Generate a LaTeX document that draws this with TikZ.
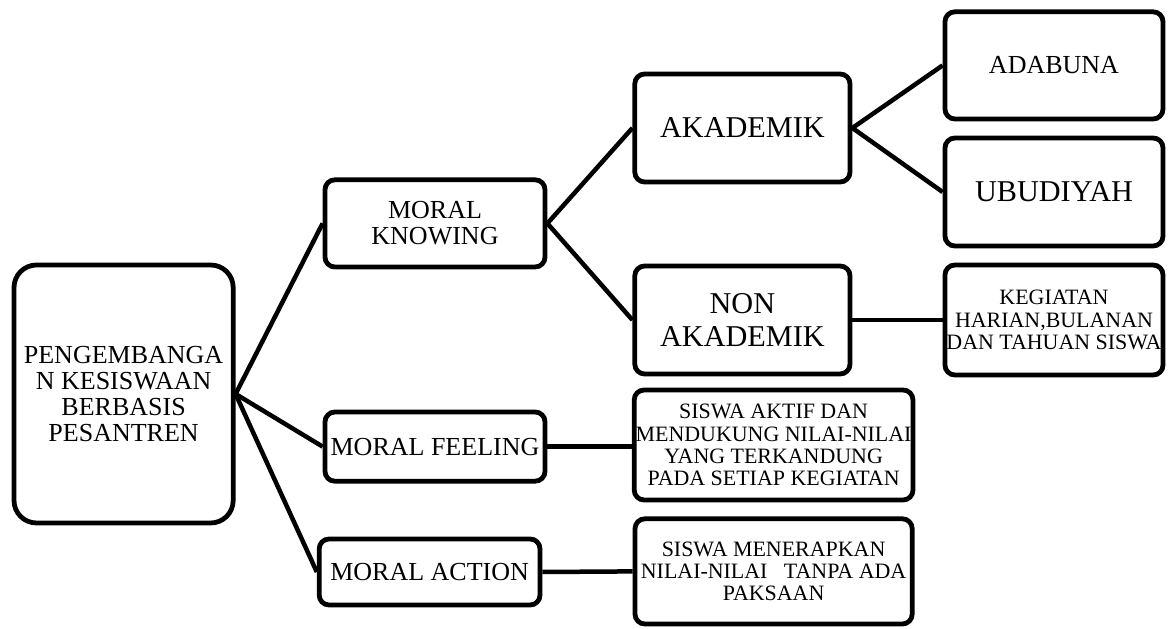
\documentclass[tikz,border=0pt]{standalone}
\usepackage{fontspec}
\setmainfont{Liberation Serif}
\usepackage{tikz}
\usetikzlibrary{positioning}

\begin{document}
\begin{tikzpicture}[
		box/.style={draw, line width=3.4pt, rounded corners=7pt, align=center, inner sep=1pt},
		big/.style={font=\fontsize{21.5}{23.5}\selectfont},
		mid/.style={font=\fontsize{18.5}{18.5}\selectfont},
		small/.style={font=\fontsize{15.6}{15.8}\selectfont},
		link/.style={line width=3.2pt}]
		\useasboundingbox (0,0) rectangle (29.225,15.725);
		% root
		\node[box, mid, rounded corners=16pt, minimum width=5.48cm, minimum height=6.45cm] (root) at (3.09,5.875) {PENGEMBANGA\\N KESISWAAN\\BERBASIS\\PESANTREN};
		% second level
		\node[box, mid, minimum width=5.5cm, minimum height=2.18cm] (knowing) at (10.875,10.14) {MORAL\\KNOWING};
		\node[box, mid, minimum width=5.5cm, minimum height=1.73cm] (feeling) at (10.875,4.56) {MORAL FEELING};
		\node[box, mid, minimum width=5.52cm, minimum height=1.65cm] (action) at (10.74,1.425) {MORAL ACTION};
		% third level
		\node[box, big, minimum width=5.38cm, minimum height=2.7cm] (akademik) at (18.56,12.525) {AKADEMIK};
		\node[box, big, minimum width=5.38cm, minimum height=2.7cm] (nonakademik) at (18.56,7.725) {NON\\AKADEMIK};
		\node[box, small, minimum width=6.93cm, minimum height=2.75cm] (aktif) at (19.34,4.6) {SISWA AKTIF DAN\\MENDUKUNG NILAI-NILAI\\YANG TERKANDUNG\\PADA SETIAP KEGIATAN};
		\node[box, small, minimum width=6.93cm, minimum height=2.63cm] (terapkan) at (19.34,1.44) {SISWA MENERAPKAN\\NILAI-NILAI\ \ \ TANPA ADA\\PAKSAAN};
		% fourth level
		\node[box, mid, minimum width=5.45cm, minimum height=2.68cm] (adabuna) at (26.35,14.09) {ADABUNA};
		\node[box, big, minimum width=5.45cm, minimum height=2.7cm] (ubudiyah) at (26.35,10.925) {UBUDIYAH};
		\node[box, small, minimum width=5.45cm, minimum height=2.75cm] (kegiatan) at (26.35,7.725) {KEGIATAN\\HARIAN,BULANAN\\DAN TAHUAN SISWA};
		% connectors
		\draw[link] (root.east) -- (knowing.west);
		\draw[link] (root.east) -- (feeling.west);
		\draw[link] (root.east) -- (action.west);
		\draw[link] (knowing.east) -- (akademik.west);
		\draw[link] (knowing.east) -- (nonakademik.west);
		\draw[link] (akademik.east) -- (adabuna.west);
		\draw[link] (akademik.east) -- (ubudiyah.west);
		\draw[link] (nonakademik.east) -- (kegiatan.west);
		\draw[link] (feeling.east) -- (feeling.east -| aktif.west);
		\draw[link] (action.east) -- (terapkan.west);
\end{tikzpicture}
\end{document}
